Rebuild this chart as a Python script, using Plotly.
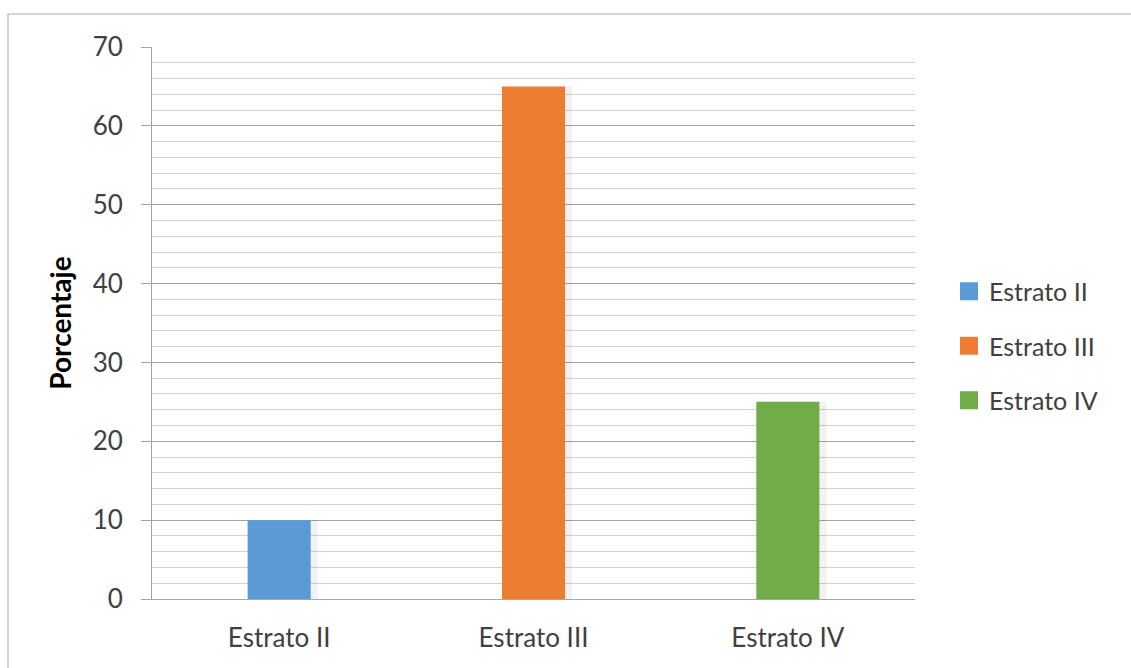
import plotly.graph_objects as go

# Data
categories = ["Estrato II", "Estrato III", "Estrato IV"]
porcentaje = [10, 65, 25]
colors = ["#5B9BD5", "#ED7D31", "#70AD47"]
y_ticks = [0, 10, 20, 30, 40, 50, 60, 70]

W, H = 1131, 668
ML, MR, MT, MB = 152, 216, 47, 69
plot_w = W - ML - MR
plot_h = H - MT - MB

font_family = "Lato, 'Open Sans', sans-serif"
text_color = "#404040"
BAR_W = 0.248

fig = go.Figure()

# soft shadow behind each bar
for cat, val in zip(categories, porcentaje):
    fig.add_trace(go.Bar(
        x=[cat], y=[val], width=BAR_W + 0.026, offset=-BAR_W / 2 + 0.002,
        marker=dict(color="rgba(0,0,0,0.05)", line=dict(width=0)),
        showlegend=False, hoverinfo="skip",
    ))

for cat, val, col in zip(categories, porcentaje, colors):
    fig.add_trace(go.Bar(
        x=[cat], y=[val], name=cat, legendgroup=cat,
        width=BAR_W, offset=-BAR_W / 2,
        marker=dict(color=col, line=dict(width=0)),
        showlegend=False,
    ))

# legend entries with larger square swatches
for cat, col in zip(categories, colors):
    fig.add_trace(go.Scatter(
        x=[cat], y=[None], mode="markers", name=cat, legendgroup=cat,
        marker=dict(symbol="square", size=16, color=col, line=dict(color=col, width=2)),
        hoverinfo="skip",
    ))

fig.update_layout(
    width=W, height=H,
    margin=dict(l=ML, r=MR, t=MT, b=MB),
    paper_bgcolor="white", plot_bgcolor="white",
    font=dict(family=font_family, color=text_color, size=26),
    barmode="overlay",
    showlegend=True,
    legend=dict(
        x=(949 - ML) / plot_w, y=1 - (346 - MT) / plot_h, xanchor="left", yanchor="middle",
        font=dict(size=25, color=text_color),
        tracegroupgap=19, bgcolor="rgba(0,0,0,0)",
        itemwidth=30,
    ),
    xaxis=dict(
        showgrid=False, showline=True, linecolor="#a6a6a6", linewidth=1,
        ticks="", tickfont=dict(size=26, color=text_color),
        ticklabelstandoff=16, zeroline=False,
    ),
    yaxis=dict(
        range=[0, 70], tickvals=y_ticks,
        showgrid=True, gridcolor="#a3a3a3", gridwidth=1,
        minor=dict(dtick=2, showgrid=True, gridcolor="#d2d2d2", gridwidth=1, ticks=""),
        showline=True, linecolor="#a3a3a3", linewidth=1,
        ticks="outside", ticklen=10, tickcolor="#a3a3a3",
        tickfont=dict(size=26, color=text_color), ticklabelstandoff=13,
        zeroline=False,
        title=dict(text="<b>Porcentaje</b>", font=dict(size=28, color="black"), standoff=12),
    ),
)

# outer chart frame (top and left edges visible)
fig.add_shape(
    type="rect", xref="paper", yref="paper",
    x0=(8 - ML) / plot_w, x1=(W + 20 - ML) / plot_w,
    y0=-(H + 20 - MT - plot_h) / plot_h, y1=1 + (MT - 14) / plot_h,
    line=dict(color="#c8c8c8", width=1.5), fillcolor="rgba(0,0,0,0)", layer="below",
)

fig.write_html("out.html")
